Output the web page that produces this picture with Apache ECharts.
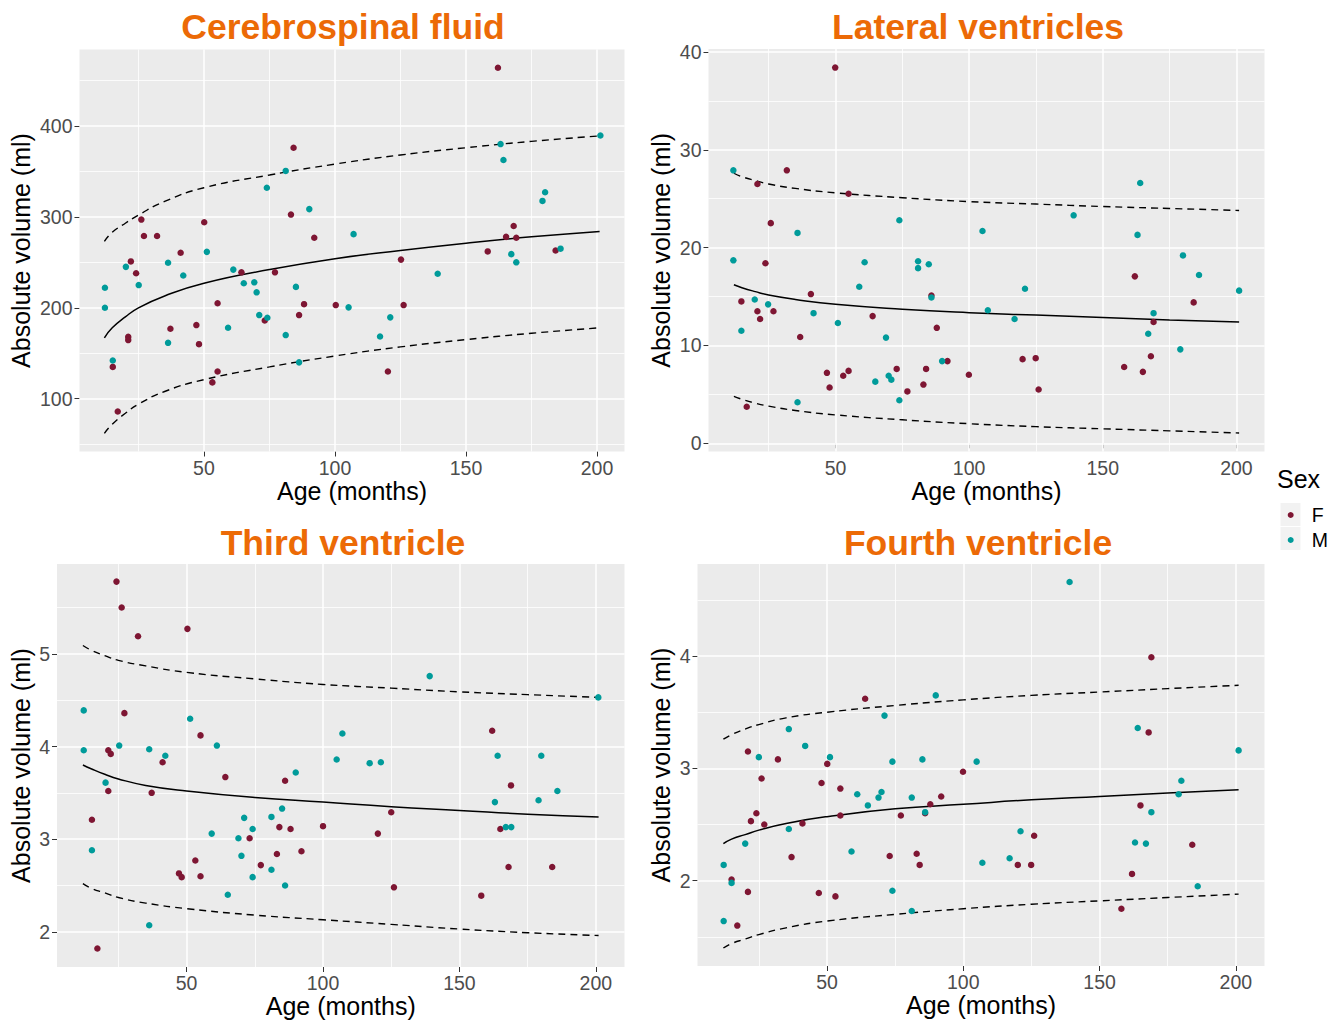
<!DOCTYPE html>
<html>
<head>
<meta charset="utf-8">
<title>Ventricular and CSF volumes by age</title>
<script src="https://cdn.jsdelivr.net/npm/echarts@6/dist/echarts.min.js"></script>
<style>
  html, body { margin: 0; padding: 0; background: #ffffff; }
  #chart { width: 1339px; height: 1021px; }
</style>
</head>
<body>
<div id="chart"></div>
<script>
// ---------- Age axis ----------
const ageRange = [2.5, 210.5];
const ageTicks = [50, 100, 150, 200];
const ageMinor = [25, 75, 125, 175];

// Ages at which the fitted curves are sampled
const curveAges = [12, 15, 20, 25, 35, 50, 75, 100, 125, 150, 175, 201];

// ---------- Cerebrospinal fluid (ml) ----------
const csfRange = [42, 484];
const csfTicks = [100, 200, 300, 400];
const csfMinor = [50, 150, 250, 350, 450];
const csfF = [[15.2,135],[17.1,86],[22.1,251],[21.1,168],[21.1,164.5],[24.1,238],[26.1,297],[27.1,279],[32.1,279],[37.2,177],[41.1,260.5],[47.1,181],[48.1,160],[50.1,294],[53.2,118],[55.2,130],[55.2,205],[64.3,239],[73.2,186],[77.1,239],[83.2,302.5],[84.2,376],[86.3,192],[88.2,204],[92.1,277],[100.3,203],[120.2,130],[125.2,253],[126.2,203],[158.3,262],[162.2,464],[165.3,278],[168.2,290],[169.2,277],[184.2,263]];
const csfM = [[12.2,222],[12.2,200],[15.2,142],[20.2,245],[25.1,225],[36.3,249.5],[36.3,161.5],[42.1,235.5],[51.1,261.5],[59.2,178],[61.2,242],[65.2,227],[69.2,228],[70.1,217],[71.1,192],[74.0,332],[74.2,189],[81.2,350.5],[81.2,170],[85.1,223],[86.3,140],[90.2,308.5],[105.2,200.5],[107.1,281],[117.2,168.5],[121.1,189.5],[139.2,237.5],[163.2,380],[164.3,362.5],[167.3,259],[169.2,250],[179.2,317.5],[180.2,327],[186.1,265],[201.3,389.5]];
const csfMean  = [167, 178, 190, 200, 213, 227, 242, 254, 263, 271, 278, 284];
const csfUpper = [273, 283, 293, 302, 317, 332, 346, 358, 368, 376, 383, 389];
const csfLower = [62, 72, 84, 94, 108, 121, 135, 147, 157, 165, 172, 178];

// ---------- Lateral ventricles (ml) ----------
const latRange = [-0.84, 40.3];
const latTicks = [0, 10, 20, 30, 40];
const latMinor = [5, 15, 25, 35];
const latF = [[14.8,14.5],[16.8,3.74],[20.8,26.5],[20.8,13.5],[21.8,12.7],[23.8,18.4],[25.8,22.5],[26.8,13.5],[31.8,27.9],[36.8,10.86],[40.8,15.25],[46.8,7.2],[47.8,5.7],[49.9,38.4],[52.9,6.9],[54.9,25.5],[54.9,7.4],[63.9,13.0],[72.9,7.6],[76.9,5.3],[82.9,6.0],[83.9,7.6],[85.9,15.1],[87.9,11.8],[91.9,8.4],[99.9,7.0],[120,8.6],[124.9,8.7],[126,5.5],[158,7.8],[162,17.06],[165,7.3],[168,8.9],[169,12.4],[184,14.4]];
const latM = [[11.8,27.9],[11.8,18.7],[14.8,11.5],[19.8,14.7],[24.8,14.2],[35.8,21.5],[35.8,4.2],[41.8,13.3],[50.9,12.3],[58.9,16.0],[60.9,18.5],[64.9,6.3],[68.9,10.8],[69.9,6.9],[70.9,6.5],[73.9,22.8],[73.9,4.4],[80.9,18.6],[80.9,17.9],[84.9,18.3],[85.9,14.9],[89.9,8.4],[105,21.7],[107,13.6],[117,12.7],[120.9,15.8],[139.1,23.3],[163,21.3],[164,26.6],[167,11.2],[169,13.3],[179,9.6],[180,19.2],[186,17.2],[201,15.6]];
const latMean  = [16.2, 15.9, 15.5, 15.15, 14.7, 14.2, 13.7, 13.35, 13.1, 12.85, 12.6, 12.4];
const latUpper = [27.6, 27.25, 26.85, 26.5, 26.05, 25.6, 25.1, 24.7, 24.45, 24.2, 24.0, 23.8];
const latLower = [4.8, 4.5, 4.1, 3.8, 3.35, 2.9, 2.4, 2.0, 1.7, 1.48, 1.27, 1.05];

// ---------- Third ventricle (ml) ----------
const thirdRange = [1.62, 5.97];
const thirdTicks = [2, 3, 4, 5];
const thirdMinor = [2.5, 3.5, 4.5, 5.5];
const thirdF = [[15.3,3.21],[17.3,1.82],[21.3,3.96],[21.3,3.52],[22.2,3.92],[24.3,5.78],[26.2,5.5],[27.2,4.36],[32.2,5.19],[37.2,3.5],[41.2,3.83],[47.2,2.63],[48.2,2.59],[50.3,5.27],[53.2,2.77],[55.1,4.12],[55.1,2.6],[64.2,3.67],[73.1,3.01],[77.2,2.72],[83.1,2.84],[84.0,3.13],[86.1,3.63],[88.1,3.11],[92.1,2.87],[100,3.14],[120.1,3.06],[125,3.29],[126,2.48],[158,2.39],[162,4.17],[165,3.11],[168,2.7],[168.9,3.58],[184,2.7]];
const thirdM = [[12.3,4.39],[12.3,3.96],[15.3,2.88],[20.3,3.61],[25.3,4.01],[36.3,3.97],[36.3,2.07],[42.2,3.9],[51.3,4.3],[59.2,3.06],[61.1,4.01],[65.1,2.4],[69,3.01],[70.1,2.82],[71.1,3.23],[74.2,3.11],[74.2,2.59],[81.1,3.24],[81.1,2.67],[85,3.33],[86.1,2.5],[90,3.72],[105,3.86],[107.1,4.14],[117.1,3.82],[121.2,3.83],[139.1,4.76],[163,3.4],[164,3.9],[167,3.13],[169,3.13],[179,3.42],[180,3.9],[185.9,3.52],[200.9,4.53]];
const thirdMean  = [3.8, 3.76, 3.7, 3.65, 3.58, 3.52, 3.45, 3.4, 3.35, 3.31, 3.27, 3.24];
const thirdUpper = [5.09, 5.04, 4.98, 4.93, 4.87, 4.8, 4.73, 4.67, 4.63, 4.59, 4.56, 4.53];
const thirdLower = [2.52, 2.47, 2.42, 2.37, 2.31, 2.25, 2.18, 2.13, 2.08, 2.03, 1.99, 1.96];

// ---------- Fourth ventricle (ml) ----------
const fourthRange = [1.24, 4.82];
const fourthTicks = [2, 3, 4];
const fourthMinor = [1.5, 2.5, 3.5, 4.5];
const fourthF = [[15,2.01],[17.1,1.6],[21,3.15],[21,1.9],[22.1,2.53],[24.1,2.6],[26,2.91],[27,2.5],[32,3.08],[37,2.21],[41,2.51],[47,1.89],[48,2.87],[50.1,3.04],[53.1,1.86],[54.9,2.82],[54.9,2.58],[64,3.62],[73,2.22],[77.1,2.58],[82.9,2.24],[84,2.14],[86,2.6],[87.9,2.68],[91.9,2.75],[99.9,2.97],[120,2.14],[124.9,2.14],[126,2.4],[158,1.75],[161.9,2.06],[165,2.67],[168,3.32],[169,3.99],[184,2.32]];
const fourthM = [[12.1,2.14],[12.1,1.64],[15,1.98],[20,2.33],[25,3.1],[36,3.35],[36,2.46],[42,3.2],[51.1,3.1],[59,2.26],[61.1,2.77],[65,2.67],[68.9,2.74],[70,2.79],[71.1,3.47],[74,3.06],[74,1.91],[81.1,2.74],[81.1,1.73],[85,3.08],[86,2.61],[89.9,3.65],[104.9,3.06],[107,2.16],[117,2.2],[121,2.44],[139,4.66],[163,2.34],[164,3.36],[167,2.33],[169,2.61],[179,2.77],[180,2.89],[186,1.95],[201,3.16]];
const fourthMean  = [2.33, 2.37, 2.41, 2.45, 2.51, 2.57, 2.64, 2.68, 2.72, 2.75, 2.78, 2.81];
const fourthUpper = [3.26, 3.3, 3.35, 3.39, 3.45, 3.5, 3.56, 3.61, 3.65, 3.68, 3.71, 3.74];
const fourthLower = [1.4, 1.44, 1.48, 1.52, 1.58, 1.64, 1.7, 1.75, 1.79, 1.82, 1.85, 1.88];

// ---------- Panel titles and labels ----------
const panelTitles = ['Cerebrospinal fluid', 'Lateral ventricles', 'Third ventricle', 'Fourth ventricle'];
const xTitle = 'Age (months)';
const yTitle = 'Absolute volume (ml)';
const sexLevels = ['F', 'M'];
const legendTitle = 'Sex';

// ---------- Styling ----------
const COL_F = '#7E1633';
const COL_M = '#009B9A';
const TITLE_COL = '#EC6A06';
const FONT = '"Liberation Sans", Arial, Helvetica, sans-serif';

const panels = [
  { f: csfF, m: csfM, mean: csfMean, upper: csfUpper, lower: csfLower, range: csfRange, ticks: csfTicks, minor: csfMinor },
  { f: latF, m: latM, mean: latMean, upper: latUpper, lower: latLower, range: latRange, ticks: latTicks, minor: latMinor },
  { f: thirdF, m: thirdM, mean: thirdMean, upper: thirdUpper, lower: thirdLower, range: thirdRange, ticks: thirdTicks, minor: thirdMinor },
  { f: fourthF, m: fourthM, mean: fourthMean, upper: fourthUpper, lower: fourthLower, range: fourthRange, ticks: fourthTicks, minor: fourthMinor }
];

// Panel placement (pixels)
const layout = [
  { grid: { left: 79.5, top: 49.5, width: 545, height: 402 }, nameGap: 46, titleX: 343, titleTop: 9 },
  { grid: { left: 708.5, top: 49, width: 556, height: 402.5 }, nameGap: 35, titleX: 978, titleTop: 9 },
  { grid: { left: 57, top: 564, width: 567.5, height: 403 }, nameGap: 24, titleX: 343, titleTop: 525 },
  { grid: { left: 697.5, top: 564, width: 567, height: 402 }, nameGap: 24, titleX: 978, titleTop: 525 }
];

const grids = [], xAxes = [], yAxes = [], series = [], titles = [];

function gridLines(xs, ys, major) {
  const w = major ? 1.5 : 0.8;
  const lines = [];
  xs.forEach(v => lines.push({ xAxis: v, lineStyle: { color: '#ffffff', width: w, type: 'solid' } }));
  ys.forEach(v => lines.push({ yAxis: v, lineStyle: { color: '#ffffff', width: w, type: 'solid' } }));
  return lines;
}

panels.forEach((p, i) => {
  const L = layout[i];
  grids.push(Object.assign({ show: true, backgroundColor: '#EBEBEB', borderWidth: 0, containLabel: false }, L.grid));

  xAxes.push({
    type: 'value', gridIndex: i, min: ageRange[0], max: ageRange[1],
    name: xTitle, nameLocation: 'middle', nameGap: 25,
    nameTextStyle: { fontSize: 25, color: '#000000', fontFamily: FONT, verticalAlign: 'top' },
    axisLine: { show: false },
    splitLine: { show: false },
    axisTick: { show: true, inside: false, length: 5, customValues: ageTicks, lineStyle: { color: '#333333', width: 1 } },
    axisLabel: { show: true, customValues: ageTicks, margin: 6, fontSize: 19.5, color: '#4D4D4D', fontFamily: FONT }
  });

  yAxes.push({
    type: 'value', gridIndex: i, min: p.range[0], max: p.range[1],
    name: yTitle, nameLocation: 'middle', nameGap: L.nameGap,
    nameTextStyle: { fontSize: 25, color: '#000000', fontFamily: FONT },
    axisLine: { show: false },
    splitLine: { show: false },
    axisTick: { show: true, inside: false, length: 5, customValues: p.ticks, lineStyle: { color: '#333333', width: 1 } },
    axisLabel: { show: true, customValues: p.ticks, margin: 7, fontSize: 19.5, color: '#4D4D4D', fontFamily: FONT }
  });

  // Background grid (minor then major white rules), kept beneath the data
  series.push({
    type: 'line', xAxisIndex: i, yAxisIndex: i, data: [], silent: true, z: 1,
    markLine: {
      z: 1, silent: true, symbol: ['none', 'none'], animation: false,
      label: { show: false }, emphasis: { disabled: true },
      data: gridLines(ageMinor, p.minor, false).concat(gridLines(ageTicks, p.ticks, true))
    }
  });

  // Fitted centile curves
  const curve = (vals, dashed, name) => ({
    type: 'line', name: name, xAxisIndex: i, yAxisIndex: i, z: 3, silent: true,
    data: curveAges.map((a, k) => [a, vals[k]]),
    showSymbol: false, smooth: 0.5,
    lineStyle: { color: '#000000', width: dashed ? 1.4 : 1.5, type: dashed ? [7, 5] : 'solid' },
    emphasis: { disabled: true }, animation: false
  });
  series.push(curve(p.upper, true, 'upper'));
  series.push(curve(p.mean, false, 'mean'));
  series.push(curve(p.lower, true, 'lower'));

  // Observations
  series.push({
    type: 'scatter', name: sexLevels[0], xAxisIndex: i, yAxisIndex: i, z: 4,
    data: p.f, symbol: 'circle', symbolSize: 6.5,
    itemStyle: { color: COL_F, opacity: 1 }, animation: false
  });
  series.push({
    type: 'scatter', name: sexLevels[1], xAxisIndex: i, yAxisIndex: i, z: 4,
    data: p.m, symbol: 'circle', symbolSize: 6.5,
    itemStyle: { color: COL_M, opacity: 1 }, animation: false
  });

  titles.push({
    text: panelTitles[i], left: L.titleX, top: L.titleTop, textAlign: 'center', padding: 0,
    textStyle: { fontSize: 35.5, fontWeight: 'bold', color: TITLE_COL, fontFamily: FONT }
  });
});

titles.push({
  text: legendTitle, left: 1277, top: 466, padding: 0,
  textStyle: { fontSize: 25, fontWeight: 'normal', color: '#000000', fontFamily: FONT }
});

const option = {
  animation: false,
  backgroundColor: '#ffffff',
  textStyle: { fontFamily: FONT },
  title: titles,
  grid: grids,
  xAxis: xAxes,
  yAxis: yAxes,
  legend: {
    data: sexLevels, orient: 'vertical', left: 1287.7, top: 505, padding: 0,
    icon: 'circle', itemWidth: 6, itemHeight: 6, itemGap: 5,
    selectedMode: true,
    textStyle: { fontSize: 19.5, color: '#000000', fontFamily: FONT, padding: [0, 0, 0, 13] }
  },
  graphic: [
    { type: 'rect', left: 1280.5, top: 503, z: -1, silent: true, shape: { width: 20, height: 23 }, style: { fill: '#F2F2F2' } },
    { type: 'rect', left: 1280.5, top: 527, z: -1, silent: true, shape: { width: 20, height: 23 }, style: { fill: '#F2F2F2' } }
  ],
  series: series
};

const chart = echarts.init(document.getElementById('chart'), null, { renderer: 'svg', width: 1339, height: 1021 });
chart.setOption(option);
</script>
</body>
</html>
